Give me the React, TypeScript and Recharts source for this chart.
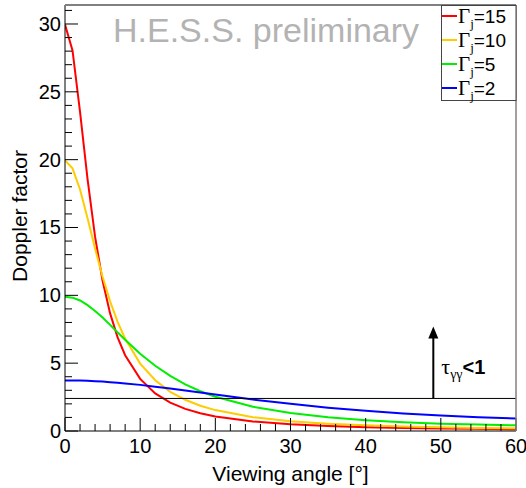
import React from 'react';
import { LineChart, Line, XAxis, YAxis, ReferenceLine } from 'recharts';

const angles = [0, 1, 2, 3, 4, 5, 6, 7, 8, 10, 12, 14, 16, 18, 20, 25, 30, 35, 40, 45, 50, 55, 60];
const gamma15 = [29.96, 28.05, 23.53, 18.56, 14.32, 11.07, 8.67, 6.9, 5.59, 3.84, 2.77, 2.09, 1.63, 1.31, 1.07, 0.7, 0.49, 0.37, 0.28, 0.23, 0.19, 0.16, 0.13];
const gamma10 = [19.95, 19.36, 17.8, 15.68, 13.45, 11.37, 9.56, 8.05, 6.8, 4.97, 3.74, 2.89, 2.3, 1.86, 1.54, 1.02, 0.72, 0.54, 0.42, 0.34, 0.28, 0.23, 0.2];
const gamma5 = [9.9, 9.83, 9.62, 9.28, 8.85, 8.36, 7.82, 7.27, 6.73, 5.7, 4.81, 4.06, 3.44, 2.93, 2.52, 1.79, 1.32, 1.01, 0.8, 0.65, 0.54, 0.47, 0.42];
const gamma2 = [3.73, 3.73, 3.72, 3.7, 3.67, 3.64, 3.6, 3.56, 3.51, 3.4, 3.27, 3.13, 2.99, 2.84, 2.69, 2.32, 2.0, 1.72, 1.49, 1.29, 1.14, 1.02, 0.92];

const seriesGammas = ['15', '10', '5', '2'];
const seriesKeys = ['g15', 'g10', 'g5', 'g2'];
const seriesColors = ['#ff0000', '#ffcc00', '#00ee00', '#0000ff'];
const seriesValues = [gamma15, gamma10, gamma5, gamma2];

const xTicks = [0, 2, 4, 6, 8, 10, 12, 14, 16, 18, 20, 22, 24, 26, 28, 30, 32, 34, 36, 38, 40, 42, 44, 46, 48, 50, 52, 54, 56, 58, 60];
const yTicks = [0, 1, 2, 3, 4, 5, 6, 7, 8, 9, 10, 11, 12, 13, 14, 15, 16, 17, 18, 19, 20, 21, 22, 23, 24, 25, 26, 27, 28, 29, 30, 31];
const xLabelEvery = 10;
const yLabelEvery = 5;

const opacityThreshold = 2.4;
const arrowAngle = 49;
const arrowTop = 7.7;

const data = angles.map((a, i) => {
  const row: any = { angle: a };
  seriesKeys.forEach((k, j) => {
    row[k] = seriesValues[j][i];
  });
  return row;
});

const SANS = '"Liberation Sans", Arial, Helvetica, sans-serif';
const SERIF = '"Liberation Serif", "Times New Roman", serif';

const YTick = (props: any) => {
  const { x, y, payload } = props;
  const v = payload.value;
  const major = v % yLabelEvery === 0;
  return (
    <g>
      <line x1={x} x2={x + (major ? 13 : 7)} y1={y} y2={y} stroke="#000" strokeWidth={1} />
      {major && (
        <text x={x - 4} y={y + 7} textAnchor="end" fontSize={20} fontFamily={SANS} fill="#000">
          {v}
        </text>
      )}
    </g>
  );
};

const XTick = (props: any) => {
  const { x, y, payload } = props;
  const v = payload.value;
  const major = v % xLabelEvery === 0;
  return (
    <g>
      <line x1={x} x2={x} y1={y} y2={y - (major ? 13 : 7)} stroke="#000" strokeWidth={1} />
      {major && (
        <text x={x} y={y + 22} textAnchor="middle" fontSize={20} fontFamily={SANS} fill="#000">
          {v}
        </text>
      )}
    </g>
  );
};

const ArrowShape = (props: any) => {
  const { x1, y1, x2, y2 } = props;
  return (
    <g>
      <line x1={x1} y1={y1} x2={x2} y2={y2 + 10} stroke="#000" strokeWidth={2} />
      <polygon points={`${x2},${y2} ${x2 - 5},${y2 + 12} ${x2 + 5},${y2 + 12}`} fill="#000" />
      <text x={x1 + 8} y={y1 - 24} fill="#000">
        <tspan fontFamily={SERIF} fontSize={22}>τ</tspan>
        <tspan fontFamily={SERIF} fontSize={14} dy={5}>γγ</tspan>
        <tspan fontFamily={SANS} fontSize={20} fontWeight="bold" dy={-5}>{'<1'}</tspan>
      </text>
    </g>
  );
};

export default function App() {
  return (
    <div style={{ position: 'absolute', left: 0, top: 0, width: 526, height: 488, background: '#fff' }}>
      <LineChart
        width={526}
        height={488}
        data={data}
        margin={{ top: 5, right: 10, bottom: 27, left: 5 }}
      >
        <XAxis
          dataKey="angle"
          type="number"
          domain={[0, 60]}
          ticks={xTicks}
          interval={0}
          tickSize={0}
          tickMargin={0}
          tickLine={false}
          tick={XTick}
          height={30}
          stroke="#000"
          allowDataOverflow
        />
        <YAxis
          type="number"
          domain={[0, 31.4]}
          ticks={yTicks}
          interval={0}
          tickSize={0}
          tickMargin={0}
          tickLine={false}
          tick={YTick}
          width={60}
          stroke="#000"
          allowDataOverflow
        />
        {seriesKeys.map((k, j) => (
          <Line
            key={k}
            dataKey={k}
            type="linear"
            stroke={seriesColors[j]}
            strokeWidth={2}
            dot={false}
            activeDot={false}
            isAnimationActive={false}
          />
        ))}
        <ReferenceLine y={opacityThreshold} stroke="#000" strokeWidth={1} />
        <ReferenceLine
          segment={[
            { x: arrowAngle, y: opacityThreshold },
            { x: arrowAngle, y: arrowTop },
          ]}
          shape={ArrowShape}
        />
      </LineChart>
      <svg
        width={526}
        height={488}
        style={{ position: 'absolute', left: 0, top: 0, pointerEvents: 'none' }}
      >
        <line x1={65} y1={5} x2={516} y2={5} stroke="#808080" strokeWidth={2} />
        <line x1={516} y1={5} x2={516} y2={431} stroke="#808080" strokeWidth={1.5} />
        <text x={113} y={42} fontFamily={SANS} fontSize={34} fill="#b3b3b3">
          H.E.S.S. preliminary
        </text>
        <text x={290.5} y={481} textAnchor="middle" fontFamily={SANS} fontSize={21} fill="#000">
          Viewing angle [°]
        </text>
        <text
          x={27}
          y={216}
          textAnchor="middle"
          fontFamily={SANS}
          fontSize={21}
          fill="#000"
          transform="rotate(-90, 27, 216)"
        >
          Doppler factor
        </text>
        <rect x={441.5} y={5.5} width={74.5} height={95} fill="#fff" stroke="#444" strokeWidth={1} />
        {seriesGammas.map((g, j) => (
          <g key={g}>
            <line x1={442} x2={457} y1={16 + j * 24} y2={16 + j * 24} stroke={seriesColors[j]} strokeWidth={2} />
            <text x={458} y={23 + j * 24} fill="#000">
              <tspan fontFamily={SERIF} fontSize={21}>Γ</tspan>
              <tspan fontFamily={SERIF} fontSize={13} dy={5}>j</tspan>
              <tspan fontFamily={SANS} fontSize={19} dy={-5}>{'=' + g}</tspan>
            </text>
          </g>
        ))}
      </svg>
    </div>
  );
}
